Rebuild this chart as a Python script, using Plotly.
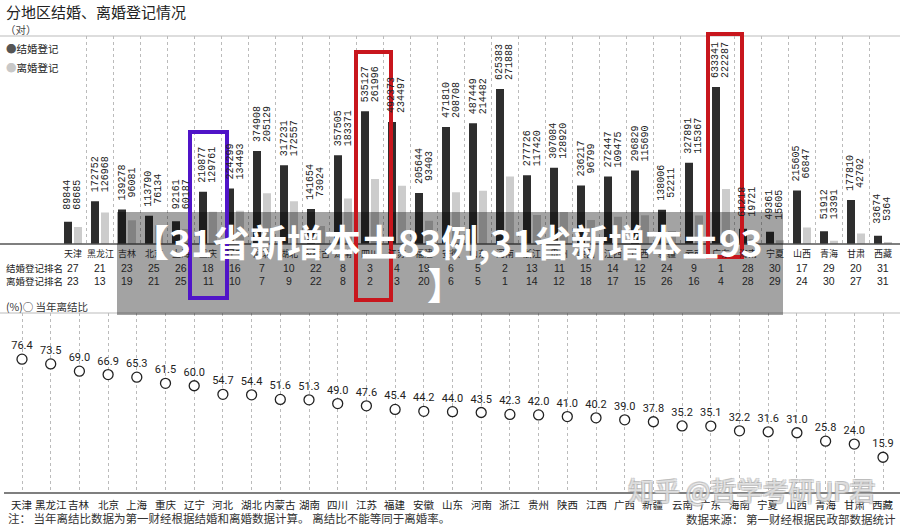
import plotly.graph_objects as go

provinces = ["天津", "黑龙江", "吉林", "北京", "上海", "重庆", "辽宁", "河北", "湖北", "内蒙古",
             "湖南", "四川", "江苏", "福建", "安徽", "山东", "河南", "浙江", "贵州", "陕西",
             "江西", "广西", "新疆", "云南", "广东", "海南", "宁夏", "山西", "青海", "甘肃", "西藏"]
marriages = [89844, 172752, 139278, 113790, 92161, 210877, 224299, 374908, 317231, 141654,
             357505, 535127, 492373, 205644, 471810, 487449, 625383, 277726, 307084, 236217,
             272447, 296829, 138006, 327891, 633341, 61218, 49361, 215605, 51912, 177810, 33674]
divorces = [68685, 126968, 96081, 76134, 60187, 129761, 134493, 205129, 172557, 73024,
            183371, 261996, 234497, 93403, 208708, 214482, 271888, 117420, 128920, 96799,
            109475, 115690, 52211, 115367, 222287, 19721, 15605, 66847, 13391, 42702, 5364]
marriage_rank = [27, 21, 23, 25, 26, 18, 16, 7, 10, 22, 8, 3, 4, 19, 6, 5, 2, 13, 11, 15,
                 14, 12, 24, 9, 1, 28, 30, 17, 29, 20, 31]
divorce_rank = [23, 13, 19, 21, 25, 11, 10, 7, 9, 22, 8, 2, 3, 20, 6, 5, 1, 14, 12, 18,
                17, 15, 26, 16, 4, 28, 29, 24, 30, 27, 31]
ratio = [76.4, 73.5, 69.0, 66.9, 65.3, 61.5, 60.0, 54.7, 54.4, 51.6, 51.3, 49.0, 47.6, 45.4,
         44.2, 44.0, 43.5, 42.3, 42.0, 41.0, 40.2, 39.0, 37.8, 35.2, 35.1, 32.2, 31.6, 31.0,
         25.8, 24.0, 15.9]

W, H = 900, 528
CJK = "Noto Sans CJK SC"


def px(x):
    return x / W


def py(y):
    return 1 - y / H


fig = go.Figure()
fig.add_bar(x=provinces, y=marriages, marker_color="#2e2e2e", marker_line_width=0,
            name="结婚登记", xaxis="x", yaxis="y", hoverinfo="skip")
fig.add_bar(x=provinces, y=divorces, marker_color="#cccccc", marker_line_width=0,
            name="离婚登记", xaxis="x", yaxis="y", hoverinfo="skip")
fig.add_scatter(x=provinces, y=ratio, mode="markers+text",
                text=[f"{v:.1f}" for v in ratio], textposition="top center",
                textfont=dict(family="Roboto", size=11, color="#222"),
                marker=dict(size=10, color="white", line=dict(color="#222", width=1.3)),
                xaxis="x2", yaxis="y2", cliponaxis=False, hoverinfo="skip")


def note(x, y, text, size, color="#222", family=CJK, xanchor="center", xref="paper", **kw):
    return dict(x=x, y=y, xref=xref, yref="paper", text=text, showarrow=False,
                xanchor=xanchor, yanchor="middle",
                font=dict(family=family, size=size, color=color, **kw))


annotations = []
# rotated value labels above bars
for p, m, d in zip(provinces, marriages, divorces):
    for val, shift in ((m, -5), (d, 5)):
        annotations.append(dict(x=p, y=m, xref="x", yref="y", text=str(val), textangle=-90,
                                showarrow=False, xanchor="center", yanchor="middle",
                                xshift=shift, yshift=27,
                                font=dict(family="Liberation Mono", size=10, color="#222")))
# category labels and rank rows
for p, mr, dr in zip(provinces, marriage_rank, divorce_rank):
    annotations.append(note(p, py(253), p, 9, xref="x"))
    annotations.append(note(p, py(268), str(mr), 10.5, family="Liberation Sans", xref="x"))
    annotations.append(note(p, py(281), str(dr), 10.5, family="Liberation Sans", xref="x"))
    annotations.append(note(p, py(504), p, 10.5, xref="x2"))
annotations += [
    note(px(4), py(268), "结婚登记排名", 9.5, xanchor="left"),
    note(px(4), py(281), "离婚登记排名", 9.5, xanchor="left"),
    note(px(4), py(12), "分地区结婚、离婚登记情况", 15, xanchor="left"),
    note(px(3), py(30), "（对）", 10.5, color="#444", xanchor="left"),
    note(px(4), py(48), "<span style='color:#555'>●</span>结婚登记", 10.5, xanchor="left"),
    note(px(4), py(67), "<span style='color:#c8c8c8'>●</span>离婚登记", 10.5, xanchor="left"),
    note(px(4), py(306), "(%)○ 当年离结比", 10.5, color="#333", xanchor="left"),
    note(px(6), py(518), "注： 当年离结比数据为第一财经根据结婚和离婚数据计算。 离结比不能等同于离婚率。",
         11.5, color="#333", xanchor="left"),
    note(px(898), py(519), "数据来源： 第一财经根据民政部数据统计", 11.5, color="#333", xanchor="right"),
    note(px(752), py(489), "知乎 @哲学考研UP君", 26, color="rgba(255,255,255,0.55)",
         shadow="1px 1px 0 #aaa, -1px -1px 0 #aaa, 1px -1px 0 #aaa, -1px 1px 0 #aaa"),
    note(px(447), py(241), "【31省新增本土83例,31省新增本土93", 37, color="white", weight=700),
    note(px(445), py(284), "】", 37, color="white", weight=700),
]


def hline(y, x0, x1, color, width):
    return dict(type="line", xref="paper", yref="paper", x0=px(x0), x1=px(x1),
                y0=py(y), y1=py(y), line=dict(color=color, width=width))


def rect(x0, y0, x1, y1, color, width):
    return dict(type="rect", xref="paper", yref="paper", x0=px(x0), x1=px(x1),
                y0=py(y1), y1=py(y0), layer="above", line=dict(color=color, width=width))


shapes = [
    hline(36, 0, 900, "#bbbbbb", 1),
    hline(244, 0, 900, "#555555", 1.3),
    hline(313, 0, 900, "#bbbbbb", 1),
    hline(493, 4, 900, "#555555", 1.3),
    dict(type="rect", xref="paper", yref="paper", x0=px(117), x1=px(783), y0=py(315), y1=py(212),
         layer="above", line=dict(width=0), fillcolor="rgba(0,0,0,0.36)"),
    rect(190, 132, 227, 298, "#5014c8", 4),
    rect(356, 52, 391, 300, "#c8161d", 4),
    rect(708, 34, 742, 257, "#c8161d", 4),
]

fig.update_layout(
    width=W, height=H, margin=dict(l=0, r=0, t=0, b=0),
    paper_bgcolor="white", plot_bgcolor="rgba(0,0,0,0)",
    barmode="group", bargap=0.26, bargroupgap=0.2, showlegend=False,
    xaxis=dict(domain=[px(59.5), px(896.5)], type="category", range=[-0.5, 30.5],
               tickson="boundaries", showgrid=True, gridcolor="#bbbbbb", griddash="dot",
               gridwidth=1, showline=False, zeroline=False, ticks="", anchor="y",
               showticklabels=False),
    yaxis=dict(domain=[py(244), py(36)], range=[0, 839000], visible=False, anchor="x"),
    xaxis2=dict(domain=[px(7.65), px(897.35)], type="category", range=[-0.5, 30.5],
                showgrid=True, gridcolor="#bbbbbb", griddash="dot", gridwidth=1,
                showline=False, zeroline=False, ticks="", anchor="y2",
                showticklabels=False),
    yaxis2=dict(domain=[py(493), py(313)], range=[-6.17, 104.9], visible=False, anchor="x2"),
    annotations=annotations, shapes=shapes,
)

fig.write_html("out.html")
